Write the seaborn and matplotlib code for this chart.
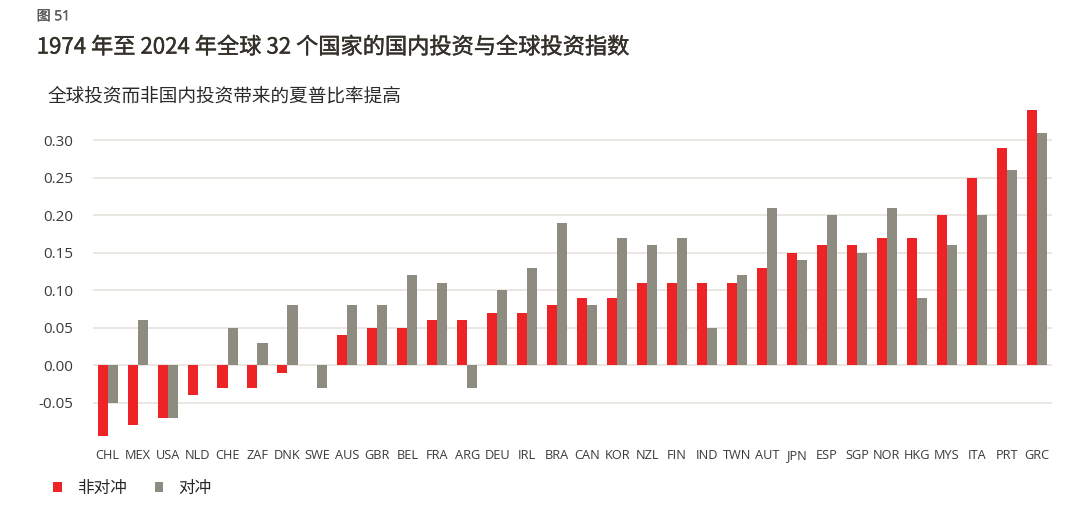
import matplotlib
matplotlib.use("Agg")
import matplotlib.pyplot as plt
import matplotlib.patheffects as pe
import seaborn as sns
import pandas as pd

countries = ["CHL", "MEX", "USA", "NLD", "CHE", "ZAF", "DNK", "SWE", "AUS", "GBR",
             "BEL", "FRA", "ARG", "DEU", "IRL", "BRA", "CAN", "KOR", "NZL", "FIN",
             "IND", "TWN", "AUT", "JPN", "ESP", "SGP", "NOR", "HKG", "MYS", "ITA",
             "PRT", "GRC"]
unhedged = [-0.095, -0.08, -0.07, -0.04, -0.03, -0.03, -0.01, 0.0, 0.04, 0.05,
            0.05, 0.06, 0.06, 0.07, 0.07, 0.08, 0.09, 0.09, 0.11, 0.11,
            0.11, 0.11, 0.13, 0.15, 0.16, 0.16, 0.17, 0.17, 0.20, 0.25,
            0.29, 0.34]
hedged = [-0.05, 0.06, -0.07, 0.0, 0.05, 0.03, 0.08, -0.03, 0.08, 0.08,
          0.12, 0.11, -0.03, 0.10, 0.13, 0.19, 0.08, 0.17, 0.16, 0.17,
          0.05, 0.12, 0.21, 0.14, 0.20, 0.15, 0.21, 0.09, 0.16, 0.20,
          0.26, 0.31]
series_names = ["非对冲", "对冲"]
yticks = [-0.05, 0.00, 0.05, 0.10, 0.15, 0.20, 0.25, 0.30]

df = pd.DataFrame({
    "country": countries * 2,
    "value": unhedged + hedged,
    "series": [series_names[0]] * len(countries) + [series_names[1]] * len(countries),
})

sns.set_theme(style="white")
FONTS = ["Open Sans", "Noto Sans CJK SC", "DejaVu Sans"]
plt.rcParams["font.family"] = FONTS

fig = plt.figure(figsize=(10.8, 5.12), dpi=100)
ax = fig.add_axes([0.0858, 0.1406, 0.888, 0.6592])

palette = {"非对冲": "#EE2326", "对冲": "#8E8B80"}
sns.barplot(data=df, x="country", y="value", hue="series", hue_order=series_names,
            order=countries, palette=palette, width=0.67, ax=ax, saturation=1,
            legend=True, zorder=3, linewidth=0, edgecolor="none")

ax.set_xlim(-0.5, len(countries) - 0.5)
ax.set_ylim(-0.1, 0.35)
ax.yaxis.grid(True, color="#E8E5E0", linewidth=1.3, zorder=0)
ax.xaxis.grid(False)
ax.set_axisbelow(True)
for s in ax.spines.values():
    s.set_visible(False)
ax.tick_params(axis="y", length=0, pad=14, labelsize=11, labelcolor="#3a3a3a")
ax.tick_params(axis="x", length=0, pad=13.5, labelsize=9.2, labelcolor="#3a3a3a")
ax.set_yticks(yticks)
ax.set_yticklabels([f"{v:.2f}" for v in yticks])
ax.set_xticks(range(len(countries)))
ax.set_xticklabels(countries)
for lbl in ax.get_xticklabels():
    lbl.set_verticalalignment("baseline")
ax.set_xlabel("")
ax.set_ylabel("")

handles, labels = ax.get_legend_handles_labels()
ax.get_legend().remove()
fig.legend(handles, labels, loc="lower left", bbox_to_anchor=(0.0355, 0.0),
           ncol=2, frameon=False, handlelength=0.5, handleheight=0.5,
           handletextpad=0.9, columnspacing=1.7, prop={"family": FONTS, "size": 12})

fig.text(0.034, 0.982, "图 51", ha="left", va="top", fontsize=10,
         color="#5a5a5a", family=FONTS,
         path_effects=[pe.withStroke(linewidth=0.25, foreground="#5a5a5a")])
fig.text(0.034, 0.908, "1974 年至 2024 年全球 32 个国家的国内投资与全球投资指数",
         ha="left", va="center", fontsize=16, color="#333029",
         family=["Noto Sans CJK SC", "DejaVu Sans"],
         path_effects=[pe.withStroke(linewidth=0.3, foreground="#333029")])
fig.text(0.044, 0.812, "全球投资而非国内投资带来的夏普比率提高", ha="left", va="center",
         fontsize=13.4, color="#2a2a2a", family=["Noto Sans CJK SC", "DejaVu Sans"])

fig.savefig("out.png", dpi=100)
